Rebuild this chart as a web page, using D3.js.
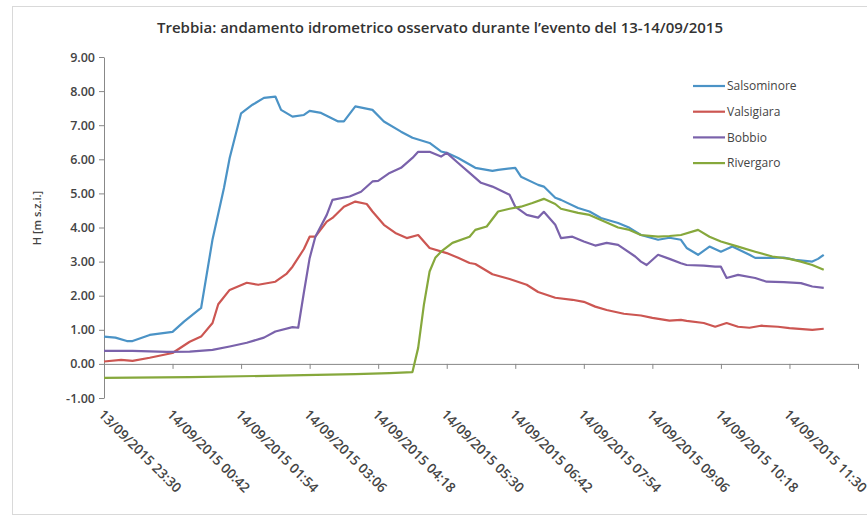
<!DOCTYPE html>
<html>
<head>
<meta charset="utf-8">
<script src="https://cdn.jsdelivr.net/npm/d3@7"></script>
<style>
  body { margin: 0; background: #fff; }
  text { font-family: "Open Sans", "Liberation Sans", sans-serif; }
</style>
</head>
<body>
<div id="chart"></div>
<script>
// Trebbia: water levels, 13-14/09/2015
const title = "Trebbia: andamento idrometrico osservato durante l\u2019evento del 13-14/09/2015";
const yTitle = "H [m s.z.i.]";
const seriesNames = ["Salsominore", "Valsigiara", "Bobbio", "Rivergaro"];
const seriesColors = ["#4b93c6", "#cc5652", "#7a62ab", "#86a83c"];
const yTicks = [-1, 0, 1, 2, 3, 4, 5, 6, 7, 8, 9];
const xTickTimes = ["23:30", "00:42", "01:54", "03:06", "04:18", "05:30",
                    "06:42", "07:54", "09:06", "10:18", "11:30", "12:42"];

const salsominore = [
  ["23:30",0.80],["23:42",0.77],["23:54",0.67],["00:00",0.67],["00:18",0.85],["00:42",0.94],
  ["00:54",1.24],["01:12",1.64],["01:24",3.65],["01:36",5.16],["01:42",6.04],["01:54",7.35],
  ["02:06",7.60],["02:18",7.80],["02:30",7.84],["02:36",7.45],["02:48",7.25],["03:00",7.30],
  ["03:06",7.42],["03:18",7.36],["03:36",7.11],["03:42",7.11],["03:54",7.55],["04:12",7.45],
  ["04:24",7.11],["04:42",6.81],["04:54",6.63],["05:12",6.48],["05:24",6.23],["05:30",6.19],
  ["05:42",6.04],["06:00",5.75],["06:18",5.66],["06:24",5.69],["06:42",5.75],["06:48",5.49],
  ["07:06",5.25],["07:12",5.20],["07:24",4.87],["07:30",4.81],["07:48",4.57],["08:00",4.47],
  ["08:12",4.28],["08:30",4.13],["08:42",3.99],["08:54",3.78],["09:12",3.64],["09:24",3.70],
  ["09:36",3.64],["09:42",3.40],["09:54",3.20],["10:06",3.44],["10:18",3.29],["10:30",3.44],
  ["10:48",3.20],["10:54",3.11],["11:12",3.11],["11:24",3.12],["11:36",3.05],["11:54",3.00],
  ["12:00",3.08],["12:06",3.20]
];

const valsigiara = [
  ["23:30",0.07],["23:48",0.12],["00:00",0.09],["00:18",0.18],["00:42",0.32],["01:00",0.65],
  ["01:12",0.80],["01:24",1.20],["01:30",1.75],["01:42",2.17],["02:00",2.38],["02:12",2.32],
  ["02:30",2.41],["02:42",2.65],["02:48",2.85],["03:00",3.37],["03:06",3.73],["03:12",3.73],
  ["03:24",4.17],["03:30",4.28],["03:42",4.61],["03:54",4.76],["04:06",4.69],["04:12",4.47],
  ["04:24",4.08],["04:36",3.84],["04:48",3.69],["05:00",3.78],["05:12",3.40],["05:30",3.25],
  ["05:42",3.11],["05:54",2.96],["06:00",2.93],["06:18",2.63],["06:36",2.49],["06:54",2.32],
  ["07:06",2.11],["07:24",1.94],["07:42",1.88],["07:54",1.82],["08:06",1.68],["08:18",1.58],
  ["08:36",1.47],["08:54",1.42],["09:06",1.35],["09:24",1.27],["09:36",1.29],["09:42",1.26],
  ["10:00",1.20],["10:12",1.09],["10:24",1.20],["10:36",1.09],["10:48",1.06],["11:00",1.12],
  ["11:18",1.09],["11:30",1.05],["11:54",1.00],["12:06",1.03]
];

const bobbio = [
  ["23:30",0.38],["00:00",0.38],["00:36",0.35],["01:00",0.36],["01:24",0.41],["01:42",0.51],
  ["02:00",0.62],["02:18",0.77],["02:30",0.95],["02:48",1.08],["02:54",1.06],["03:00",2.10],
  ["03:06",3.10],["03:12",3.73],["03:24",4.37],["03:30",4.81],["03:48",4.91],["04:00",5.05],
  ["04:12",5.35],["04:18",5.37],["04:30",5.60],["04:42",5.75],["04:54",6.04],["05:00",6.22],
  ["05:12",6.22],["05:24",6.08],["05:30",6.19],["05:42",5.89],["05:54",5.60],["06:06",5.31],
  ["06:18",5.20],["06:36",4.96],["06:42",4.61],["06:54",4.37],["07:06",4.29],["07:12",4.46],
  ["07:24",4.08],["07:30",3.69],["07:42",3.73],["07:54",3.59],["08:06",3.47],["08:18",3.55],
  ["08:30",3.49],["08:48",3.15],["08:54",3.00],["09:00",2.90],["09:12",3.20],["09:24",3.08],
  ["09:36",2.95],["09:42",2.90],["10:00",2.88],["10:12",2.85],["10:18",2.85],["10:24",2.52],
  ["10:36",2.61],["10:54",2.52],["11:06",2.41],["11:24",2.40],["11:42",2.37],["11:54",2.27],
  ["12:06",2.23]
];

const rivergaro = [
  ["23:30",-0.41],["01:00",-0.39],["03:00",-0.33],["03:54",-0.30],["04:30",-0.27],["04:54",-0.24],
  ["05:00",0.47],["05:06",1.73],["05:12",2.71],["05:18",3.11],["05:24",3.29],["05:36",3.55],
  ["05:54",3.73],["06:00",3.93],["06:12",4.03],["06:24",4.47],["06:36",4.55],["06:48",4.61],
  ["07:00",4.72],["07:12",4.84],["07:24",4.69],["07:30",4.55],["07:48",4.43],["08:00",4.37],
  ["08:12",4.22],["08:30",4.00],["08:42",3.93],["08:54",3.78],["09:12",3.73],["09:24",3.75],
  ["09:36",3.78],["09:54",3.93],["10:06",3.73],["10:18",3.59],["10:36",3.44],["10:54",3.29],
  ["11:12",3.15],["11:30",3.08],["11:42",3.00],["11:54",2.90],["12:06",2.76]
];

const seriesData = [salsominore, valsigiara, bobbio, rivergaro];

// "HH:MM" -> Date; 23:xx belongs to 13/09, everything else to 14/09
function parseTime(s) {
  const [h, m] = s.split(":").map(Number);
  return new Date(2015, 8, h >= 23 ? 13 : 14, h, m);
}

const width = 867, height = 518;
const svg = d3.select("#chart").append("svg")
    .attr("width", width)
    .attr("height", height);

svg.append("rect")
    .attr("width", width).attr("height", height)
    .attr("fill", "#fff");

// chart area border (cut off on the right like the original)
svg.append("rect")
    .attr("x", 12.5).attr("y", 6.5)
    .attr("width", 870).attr("height", 508)
    .attr("fill", "none")
    .attr("stroke", "#d9d9d9");

const x = d3.scaleTime()
    .domain([parseTime(xTickTimes[0]), parseTime(xTickTimes[xTickTimes.length - 1])])
    .range([104, 858]);

const y = d3.scaleLinear()
    .domain([-1, 9])
    .range([398, 57]);

// title
svg.append("text")
    .attr("x", 440).attr("y", 33)
    .attr("text-anchor", "middle")
    .style("font-size", "15px")
    .style("font-weight", 600)
    .attr("fill", "#333")
    .text(title);

// y axis
const yAxis = svg.append("g")
    .attr("transform", "translate(104,0)")
    .call(d3.axisLeft(y).tickValues(yTicks).tickSize(5).tickSizeOuter(0)
        .tickFormat(d => d.toFixed(2)));
yAxis.select(".domain").attr("stroke", "#888");
yAxis.selectAll(".tick line").attr("stroke", "#888");
yAxis.selectAll(".tick text")
    .attr("x", -9)
    .style("font-size", "12.5px")
    .style("font-weight", 600)
    .attr("fill", "#444");

svg.append("text")
    .attr("transform", "translate(41,218) rotate(-90)")
    .attr("text-anchor", "middle")
    .style("font-size", "11px")
    .style("font-weight", 600)
    .attr("fill", "#444")
    .text(yTitle);

// x axis sits on the zero line, labels below the plot
const tickDates = xTickTimes.map(parseTime);
const xAxis = svg.append("g")
    .attr("transform", "translate(0," + y(0) + ")")
    .call(d3.axisBottom(x).tickValues(tickDates).tickSize(5).tickSizeOuter(0)
        .tickFormat(""));
xAxis.select(".domain").attr("stroke", "#888");
xAxis.selectAll(".tick line").attr("stroke", "#888");

const fmt = d3.timeFormat("%d/%m/%Y %H:%M");
svg.append("g")
    .selectAll("text")
    .data(tickDates.slice(0, -1))
    .enter().append("text")
    .attr("transform", d => "translate(" + (x(d) - 3) + ",412) rotate(45)")
    .attr("dy", "0.35em")
    .style("font-size", "13.5px")
    .style("font-weight", 600)
    .attr("fill", "#444")
    .text(fmt);

// lines
const line = d3.line()
    .x(d => x(parseTime(d[0])))
    .y(d => y(d[1]));

svg.append("g")
    .selectAll("path")
    .data(seriesData)
    .enter().append("path")
    .attr("d", line)
    .attr("fill", "none")
    .attr("stroke", (d, i) => seriesColors[i])
    .attr("stroke-width", 2.2)
    .attr("stroke-linejoin", "round");

// legend
const legend = svg.append("g")
    .selectAll("g")
    .data(seriesNames)
    .enter().append("g")
    .attr("transform", (d, i) => "translate(693," + (86 + i * 25.7) + ")");

legend.append("line")
    .attr("x1", 0).attr("x2", 32)
    .attr("stroke", (d, i) => seriesColors[i])
    .attr("stroke-width", 2.2);

legend.append("text")
    .attr("x", 34)
    .attr("dy", "0.35em")
    .style("font-size", "12px")
    .attr("fill", "#444")
    .text(d => d);
</script>
</body>
</html>
